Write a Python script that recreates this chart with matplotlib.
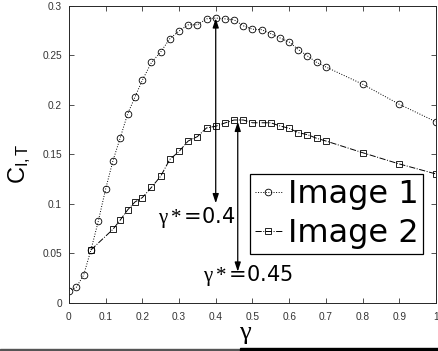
import numpy as np
import matplotlib
matplotlib.use("Agg")
import matplotlib.pyplot as plt
from matplotlib.patches import Rectangle

plt.rcParams['mathtext.fontset'] = 'custom'
plt.rcParams['mathtext.rm'] = 'Liberation Serif'
plt.rcParams['mathtext.it'] = 'Liberation Serif:italic'
plt.rcParams['mathtext.sf'] = 'Liberation Sans'
plt.rcParams['mathtext.bf'] = 'Liberation Serif:bold'

# gamma values and coefficient for each image
x1 = [0, 0.02, 0.04, 0.06, 0.08, 0.1, 0.12, 0.14, 0.16, 0.18, 0.2,
      0.225, 0.25, 0.275, 0.3, 0.325, 0.35, 0.375, 0.4,
      0.425, 0.45, 0.475, 0.5, 0.525, 0.55, 0.575, 0.6, 0.625, 0.65, 0.675, 0.7,
      0.8, 0.9, 1.0]
y1 = [0.0124, 0.0158, 0.028, 0.0535, 0.0825, 0.115, 0.1437, 0.167, 0.191, 0.208, 0.225,
      0.243, 0.2535, 0.267, 0.2747, 0.281, 0.281, 0.287, 0.2878,
      0.287, 0.286, 0.280, 0.2765, 0.276, 0.272, 0.2677, 0.2636, 0.256, 0.2495, 0.243, 0.2384,
      0.221, 0.2007, 0.183]

x2 = [0.06, 0.12, 0.14, 0.16, 0.18, 0.2,
      0.225, 0.25, 0.275, 0.3, 0.325, 0.35, 0.375, 0.4,
      0.425, 0.45, 0.475, 0.5, 0.525, 0.55, 0.575, 0.6, 0.625, 0.65, 0.675, 0.7,
      0.8, 0.9, 1.0]
y2 = [0.0535, 0.0744, 0.0838, 0.094, 0.102, 0.1064,
      0.1168, 0.128, 0.145, 0.153, 0.1636, 0.168, 0.1768, 0.1785,
      0.1818, 0.1848, 0.1848, 0.182, 0.182, 0.182, 0.1788, 0.1764, 0.172, 0.170, 0.1663, 0.1636,
      0.1518, 0.1404, 0.1303]

# optimum markers: (gamma, bottom, top)
opt1 = (0.4, 0.1007, 0.2875)
opt2 = (0.46, 0.0316, 0.183)

fig = plt.figure(figsize=(4.39, 3.51), dpi=100)
ax = fig.add_axes([0.157, 0.137, 0.836, 0.846])

ax.plot(x1, y1, linestyle=':', color='k', lw=0.7, marker='o', ms=4.8,
        mfc='none', mec='k', mew=0.6, label='Image 1')
ax.plot(x2, y2, linestyle='-.', color='k', lw=0.7, marker='s', ms=4.6,
        mfc='none', mec='k', mew=0.6, label='Image 2')

for g, lo, hi in [opt1, opt2]:
    ax.annotate('', xy=(g, hi), xytext=(g, lo),
                arrowprops=dict(arrowstyle='<|-|>,head_length=0.55,head_width=0.18',
                                color='k', lw=0.9, shrinkA=0, shrinkB=0))

ax.text(0.2425, 0.0859, r'$\mathrm{\gamma*}$=0.4', fontsize=15, ha='left', va='center',
        family='DejaVu Sans')
ax.text(0.365, 0.0273, r'$\mathrm{\gamma*}$=0.45', fontsize=15, ha='left', va='center',
        family='DejaVu Sans')

ax.set_xlim(0, 1)
ax.set_ylim(0, 0.3)
ax.set_xticks(np.arange(0, 1.01, 0.1))
ax.set_xticklabels(['0', '0.1', '0.2', '0.3', '0.4', '0.5', '0.6', '0.7', '0.8', '0.9', '1'])
ax.set_yticks([0, 0.05, 0.1, 0.15, 0.2, 0.25, 0.3])
ax.set_yticklabels(['0', '0.05', '0.1', '0.15', '0.2', '0.25', '0.3'])
ax.tick_params(direction='in', length=3.5, width=0.6, top=True, right=True,
               labelsize=7.3, colors='#333333', labelcolor='#333333')
ax.tick_params(axis='x', pad=6.5)
ax.tick_params(axis='y', pad=5)
for sp in ax.spines.values():
    sp.set_linewidth(0.7)
    sp.set_color('#262626')
for lab in ax.get_xticklabels() + ax.get_yticklabels():
    lab.set_family('Liberation Sans')

xl = ax.set_xlabel(r'$\mathrm{\gamma}$', fontsize=19)
xl.set_va('center')
ax.xaxis.set_label_coords(0.48, -0.102)
ax.set_ylabel(r'C$_{\mathsf{I,T}}$', fontsize=17, family='Liberation Sans')
ax.yaxis.set_label_coords(-0.098, 0.47)

leg = ax.legend(loc='upper right', bbox_to_anchor=(0.965, 0.433), fontsize=23,
                handlelength=0.85, handletextpad=0.18, borderpad=0.15, labelspacing=0.25,
                borderaxespad=0, fancybox=False, framealpha=1, edgecolor='k')
leg.get_frame().set_linewidth(0.9)

# scan band at the bottom edge of the image
fig.patches.append(Rectangle((0, 0), 0.545, 0.007, transform=fig.transFigure,
                             color='#555555', zorder=10))
fig.patches.append(Rectangle((0.547, 0), 0.453, 0.009, transform=fig.transFigure,
                             color='k', zorder=10))

fig.savefig('out.png', dpi=100)
